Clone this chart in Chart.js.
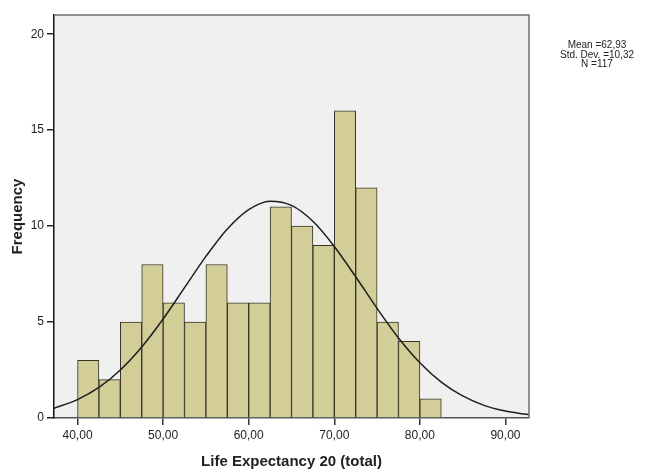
<!DOCTYPE html>
<html>
<head>
<meta charset="utf-8">
<script src="https://cdn.jsdelivr.net/npm/chart.js@4"></script>
<style>
  html, body { margin: 0; padding: 0; background: #fff; }
  #wrap { width: 663px; height: 472px; }
</style>
</head>
<body>
<div id="wrap"><canvas id="histChart" width="663" height="472"></canvas></div>
<script>
// bin centres (bin width 2,5) and counts
const binCenters = [41.25, 43.75, 46.25, 48.75, 51.25, 53.75, 56.25, 58.75, 61.25, 63.75, 66.25, 68.75, 71.25, 73.75, 76.25, 78.75, 81.25];
const binCounts = [3, 2, 5, 8, 6, 5, 8, 6, 6, 11, 10, 9, 16, 12, 5, 4, 1];

// normal curve
const curveX = [37.25, 40, 42.5, 45, 47.5, 50, 52.5, 55, 57.5, 60, 62.5, 65, 67.5, 70, 72.5, 75, 77.5, 80, 82.5, 85, 87.5, 90, 92.5, 92.75];
const curveY = [0.51, 0.96, 1.59, 2.50, 3.70, 5.16, 6.79, 8.42, 9.85, 10.86, 11.30, 11.08, 10.25, 8.94, 7.36, 5.71, 4.17, 2.88, 1.87, 1.15, 0.66, 0.36, 0.19, 0.17];

const xTicks = [40, 50, 60, 70, 80, 90];
const yTicks = [0, 5, 10, 15, 20];
const statLines = ["Mean =62,93", "Std. Dev. =10,32", "N =117"];

const FONT = "'Liberation Sans', Arial, sans-serif";

const plotFrame = {
    id: "plotFrame",
    beforeDraw(chart) {
        const { ctx, chartArea: a } = chart;
        ctx.save();
        ctx.fillStyle = "#f0f0f0";
        ctx.fillRect(a.left, a.top, a.right - a.left, a.bottom - a.top);
        ctx.restore();
    },
    afterDraw(chart) {
        const { ctx, chartArea: a } = chart;
        ctx.save();
        ctx.strokeStyle = "#707070";
        ctx.lineWidth = 1.5;
        ctx.beginPath();
        ctx.moveTo(a.left, a.top);
        ctx.lineTo(a.right, a.top);
        ctx.lineTo(a.right, a.bottom);
        ctx.stroke();
        // stats box text
        ctx.fillStyle = "#222";
        ctx.font = "10px " + FONT;
        ctx.textAlign = "center";
        ctx.textBaseline = "alphabetic";
        statLines.forEach((t, i) => ctx.fillText(t, 597, 48 + i * 9.5));
        ctx.restore();
    }
};

const ctx = document.getElementById("histChart").getContext("2d");
new Chart(ctx, {
    type: "bar",
    data: {
        datasets: [{
            type: "line",
            data: curveX.map((x, i) => ({ x: x, y: curveY[i] })),
            borderColor: "#1e1e1e",
            borderWidth: 1.5,
            pointRadius: 0,
            cubicInterpolationMode: "monotone",
            fill: false,
            order: 0
        }, {
            type: "bar",
            data: binCenters.map((x, i) => ({ x: x, y: binCounts[i] })),
            backgroundColor: "#d3ce97",
            borderColor: "#35342a",
            borderWidth: 1,
            barPercentage: 1,
            categoryPercentage: 1,
            order: 1
        }]
    },
    options: {
        responsive: false,
        animation: false,
        layout: { padding: { top: 15, right: 134, left: 0, bottom: 0 } },
        plugins: {
            legend: { display: false },
            tooltip: { enabled: false }
        },
        scales: {
            x: {
                type: "linear",
                min: 37.25,
                max: 92.75,
                offset: false,
                afterBuildTicks: (axis) => { axis.ticks = xTicks.map((v) => ({ value: v })); },
                afterFit: (axis) => { axis.height = 54; },
                ticks: {
                    autoSkip: false,
                    maxRotation: 0,
                    padding: 3,
                    color: "#222",
                    font: { family: FONT, size: 12 },
                    callback: (v) => v.toFixed(2).replace(".", ",")
                },
                grid: { offset: false, drawOnChartArea: false, tickLength: 7, color: "#333", lineWidth: 1.5 },
                border: { color: "#555", width: 1.5 },
                title: {
                    display: true,
                    text: "Life Expectancy 20 (total)",
                    color: "#222",
                    font: { family: FONT, size: 15, weight: "bold" },
                    padding: { top: 0, bottom: 1 }
                }
            },
            y: {
                min: 0,
                max: 21,
                afterBuildTicks: (axis) => { axis.ticks = yTicks.map((v) => ({ value: v })); },
                afterFit: (axis) => { axis.width = 54; },
                ticks: {
                    padding: 3,
                    color: "#222",
                    font: { family: FONT, size: 12 }
                },
                grid: { drawOnChartArea: false, tickLength: 7, color: "#222", lineWidth: 1.5 },
                border: { color: "#111", width: 1.5 },
                title: {
                    display: true,
                    text: "Frequency",
                    color: "#222",
                    font: { family: FONT, size: 15, weight: "bold" },
                    padding: { top: 9, bottom: 0 }
                }
            }
        }
    },
    plugins: [plotFrame]
});
</script>
</body>
</html>
